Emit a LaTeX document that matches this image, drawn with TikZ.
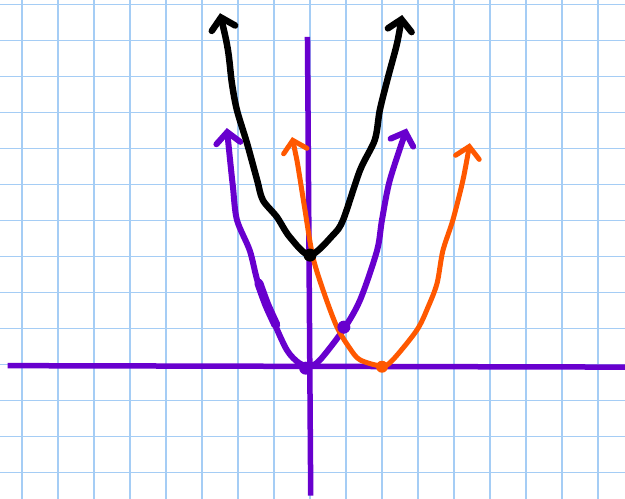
\documentclass[tikz,border=0pt]{standalone}
\usepackage{tikz}
\usetikzlibrary{arrows.meta,calc}
\definecolor{gridblue}{RGB}{165,205,245}
\definecolor{axispurple}{RGB}{104,0,206}
\definecolor{curveorange}{RGB}{255,88,0}

\begin{document}
\begin{tikzpicture}[x=36pt,y=36pt,
  gridline/.style={gridblue,line width=1.6pt},
  axis/.style={axispurple,line width=5.5pt},
  curve/.style={line width=6pt,line cap=round,line join=round,
                >={Straight Barb[length=11pt,width=24pt,line cap=round]},<->},
  vertexdot/.style={circle,fill,inner sep=0pt,minimum size=13pt}
]

\useasboundingbox[fill=white] (-8.611,-3.694) rectangle (8.75,10.167);

% Grid paper
\foreach \i in {-8,...,8}
  \draw[gridline] (\i,-3.694) -- (\i,10.167);
\foreach \j in {-3,...,10}
  \draw[gridline] (-8.611,\j+0.04) -- (8.75,\j+0.04);

% Axes
\coordinate (xl) at (-8.4,0.01);
\coordinate (xr) at (8.75,-0.03);
\coordinate (yt) at (-0.07,9.14);
\coordinate (yb) at (0.02,-3.6);
\draw[axis] (xl) -- (xr);
\draw[axis] (yt) -- (yb);

% Vertices
\coordinate (O) at (0,0);
\coordinate (Vr) at (2,-0.02);
\coordinate (Vu) at (0,3.08);
\coordinate (X) at (0.94,1.08);

% y = x^2
\draw[curve,axispurple] plot[smooth] coordinates {
  (-2.31,6.61) (-2.22,5.72) (-2.14,4.97) (-2.03,4.06) (-1.67,3.2)
  (-1.44,2.3) (-1.03,1.28) (-0.64,0.44) (-0.3,0.08) (0,0)
  (0.28,0.17) (0.92,1.0) (1.39,1.83) (1.86,3.2) (2.0,4.06)
  (2.22,5.17) (2.69,6.6)};
\draw[axispurple,line width=9pt,line cap=round] plot[smooth] coordinates {
  (-1.42,2.3) (-1.2,1.7) (-0.95,1.15)};
\fill[axispurple] ($(O)+(-0.12,-0.06)$) circle (6.5pt);

% y = (x-2)^2
\draw[curve,curveorange,line width=5pt] plot[smooth] coordinates {
  (-0.5,6.36) (-0.36,5.7) (-0.15,4.4) (0.08,3.03) (0.4,2.0)
  (0.75,1.08) (1.1,0.5) (1.39,0.17) (2,0) (2.3,0.17)
  (2.97,1.0) (3.28,1.64) (3.53,2.3) (3.69,3.2) (3.97,4.06)
  (4.25,5.17) (4.44,6.19)};
\fill[axispurple] (X) circle (6.5pt);
\fill[curveorange] (Vr) circle (6pt);

% y = x^2 + 3
\draw[curve,black,line width=6.5pt] plot[smooth] coordinates {
  (-2.5,9.8) (-2.28,8.78) (-2.17,7.86) (-2.03,7.11) (-1.75,6.19)
  (-1.47,5.17) (-1.31,4.61) (-0.92,4.14) (-0.56,3.58) (0,3.08)
  (0.64,3.64) (0.92,4.06) (1.39,5.44) (1.8,6.28) (1.94,7.11)
  (2.17,8.03) (2.42,8.97) (2.56,9.75)};
\node[vertexdot,black] (vu) at (Vu) {};

\end{tikzpicture}
\end{document}
